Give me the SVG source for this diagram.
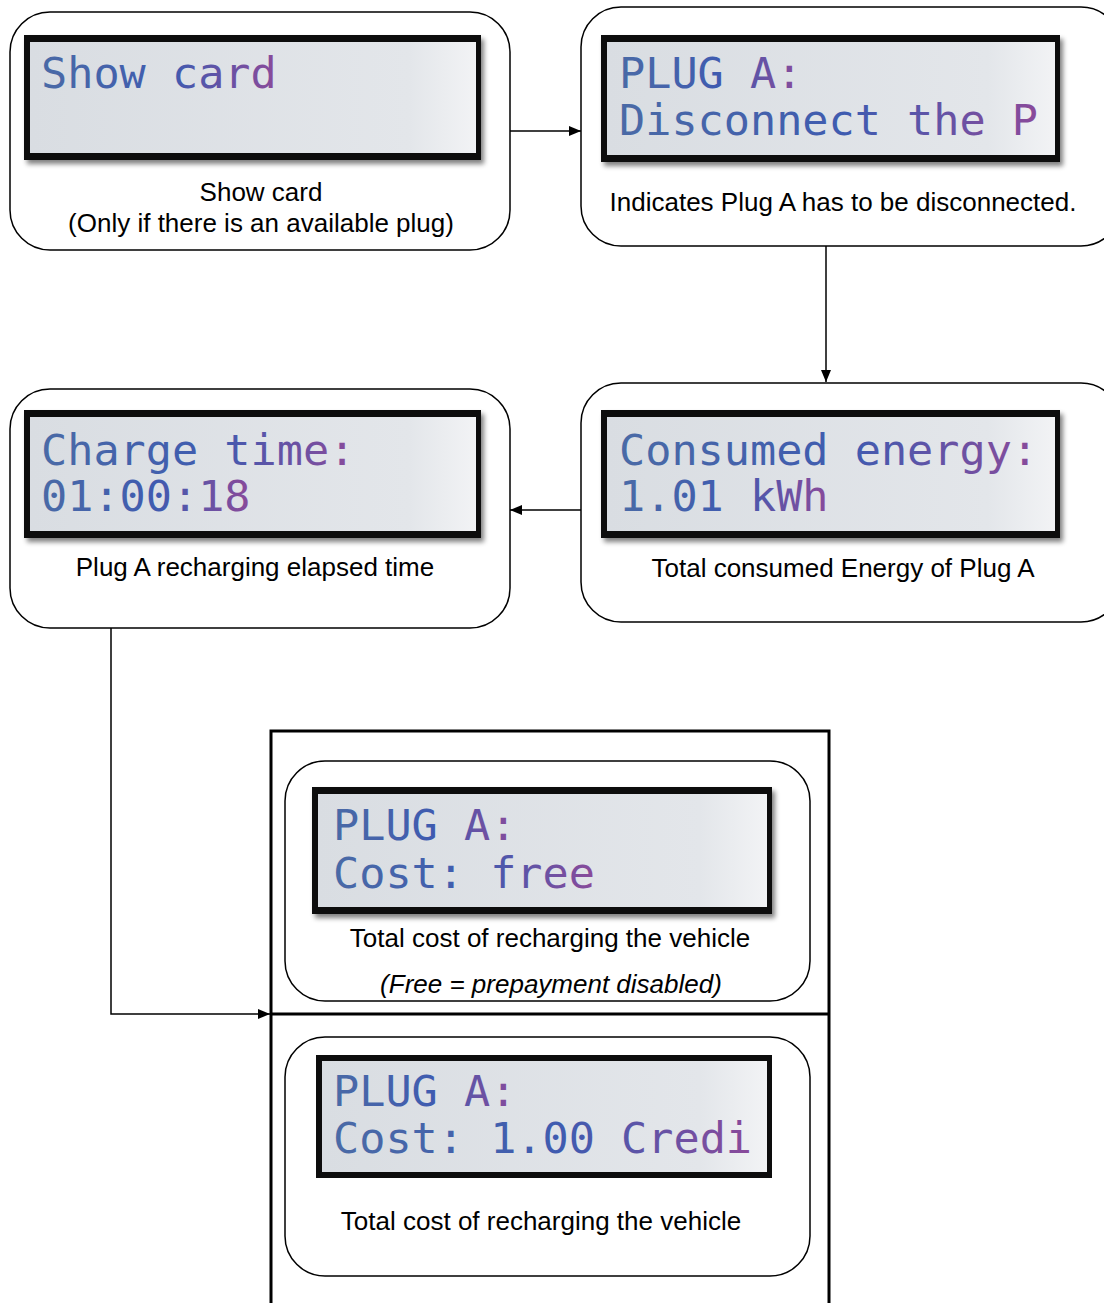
<svg xmlns="http://www.w3.org/2000/svg" width="1104" height="1303" viewBox="0 0 1104 1303">
<style>
.box{fill:#fff;stroke:#000;stroke-width:1.5}
.bezel{fill:#0d0d0d}
.screen{fill:url(#scr)}
.lcd{font-family:"DejaVu Sans Mono",monospace;font-size:43.5px;fill:url(#ink)}
.cap{font-family:"Liberation Sans",Arial,sans-serif;font-size:26px;fill:#000;text-anchor:middle}
.conn{fill:none;stroke:#000;stroke-width:1.5}
</style>
<defs>
<linearGradient id="scr" x1="0" y1="0" x2="1" y2="0">
<stop offset="0" stop-color="#d9dde2"/>
<stop offset="0.85" stop-color="#e3e6ea"/>
<stop offset="1" stop-color="#f2f3f5"/>
</linearGradient>
<linearGradient id="ink" x1="0" y1="0" x2="1" y2="0">
<stop offset="0" stop-color="#4a6aa6"/>
<stop offset="0.55" stop-color="#3f5bb0"/>
<stop offset="1" stop-color="#8a4a9a"/>
</linearGradient>
<filter id="sh" x="-5%" y="-10%" width="115%" height="130%">
<feGaussianBlur in="SourceAlpha" stdDeviation="2.5"/>
<feOffset dx="3" dy="4"/>
<feComponentTransfer><feFuncA type="linear" slope="0.5"/></feComponentTransfer>
<feMerge><feMergeNode/><feMergeNode in="SourceGraphic"/></feMerge>
</filter>
<marker id="arr" viewBox="0 0 12 10" refX="12" refY="5" markerWidth="12" markerHeight="10" markerUnits="userSpaceOnUse" orient="auto">
<path d="M0,0 L12,5 L0,10 z" fill="#000"/>
</marker>
</defs>
<rect width="1104" height="1303" fill="#fff"/>

<g id="connectors">
<line class="conn" x1="510" y1="131" x2="581" y2="131" marker-end="url(#arr)"/>
<line class="conn" x1="826" y1="246" x2="826" y2="382" marker-end="url(#arr)"/>
<line class="conn" x1="581" y1="510" x2="510" y2="510" marker-end="url(#arr)"/>
<polyline class="conn" points="111,628 111,1014 270,1014" marker-end="url(#arr)"/>
</g>

<g id="node-show-card">
<rect class="box" x="10" y="12" width="500" height="238" rx="40"/>
<g filter="url(#sh)"><rect class="bezel" x="24" y="35" width="457" height="125"/></g>
<rect class="screen" x="30" y="42" width="446" height="111"/>
<text class="lcd" x="41" y="88">Show card</text>
<text class="cap" x="261" y="201">Show card</text>
<text class="cap" x="261" y="232">(Only if there is an available plug)</text>
</g>

<g id="node-disconnect">
<rect class="box" x="581" y="7" width="540" height="239" rx="40"/>
<g filter="url(#sh)"><rect class="bezel" x="601" y="35" width="459" height="127"/></g>
<rect class="screen" x="607" y="42" width="448" height="113"/>
<text class="lcd" x="619" y="88">PLUG A:</text>
<text class="lcd" x="619" y="135">Disconnect the P</text>
<text class="cap" x="843" y="211">Indicates Plug A has to be disconnected.</text>
</g>

<g id="node-energy">
<rect class="box" x="581" y="383" width="540" height="239" rx="40"/>
<g filter="url(#sh)"><rect class="bezel" x="601" y="410" width="459" height="128"/></g>
<rect class="screen" x="607" y="417" width="448" height="114"/>
<text class="lcd" x="619" y="465">Consumed energy:</text>
<text class="lcd" x="619" y="511">1.01 kWh</text>
<text class="cap" x="843" y="577">Total consumed Energy of Plug A</text>
</g>

<g id="node-charge-time">
<rect class="box" x="10" y="389" width="500" height="239" rx="40"/>
<g filter="url(#sh)"><rect class="bezel" x="24" y="410" width="457" height="128"/></g>
<rect class="screen" x="30" y="417" width="446" height="114"/>
<text class="lcd" x="41" y="465">Charge time:</text>
<text class="lcd" x="41" y="511">01:00:18</text>
<text class="cap" x="255" y="576">Plug A recharging elapsed time</text>
</g>

<g id="cost-container">
<rect x="271" y="731" width="558" height="580" fill="none" stroke="#000" stroke-width="3"/>
<line x1="271" y1="1014" x2="829" y2="1014" stroke="#000" stroke-width="3"/>
</g>

<g id="node-cost-free">
<rect class="box" x="285" y="761" width="525" height="240" rx="40"/>
<g filter="url(#sh)"><rect class="bezel" x="312" y="787" width="460" height="127"/></g>
<rect class="screen" x="318" y="794" width="449" height="113"/>
<text class="lcd" x="333" y="840">PLUG A:</text>
<text class="lcd" x="333" y="888">Cost: free</text>
<text class="cap" x="550" y="947">Total cost of recharging the vehicle</text>
<text class="cap" x="551" y="993" font-style="italic">(Free = prepayment disabled)</text>
</g>

<g id="node-cost-credit">
<rect class="box" x="285" y="1037" width="525" height="239" rx="40"/>
<rect class="bezel" x="316" y="1055" width="456" height="123"/>
<rect class="screen" x="322" y="1061" width="445" height="111"/>
<text class="lcd" x="333" y="1106">PLUG A:</text>
<text class="lcd" x="333" y="1153">Cost: 1.00 Credi</text>
<text class="cap" x="541" y="1230">Total cost of recharging the vehicle</text>
</g>
</svg>
